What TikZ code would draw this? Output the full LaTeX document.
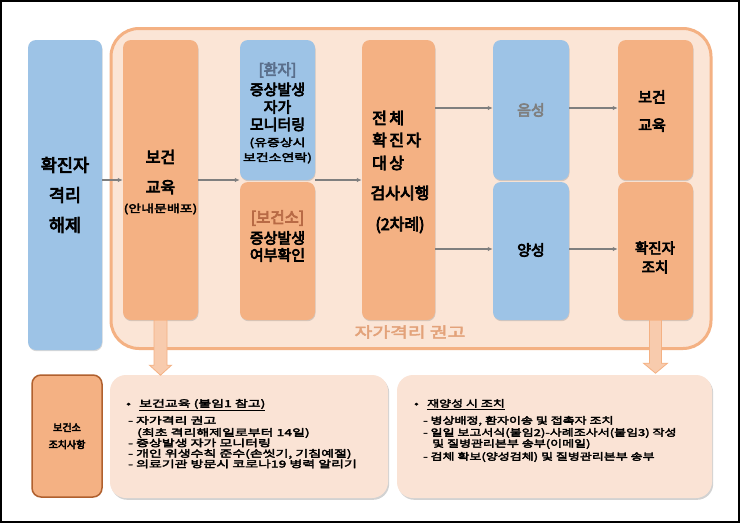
\documentclass[tikz,border=0pt]{standalone}
\usepackage{fontspec}
\setmainfont{Noto Sans CJK KR}[BoldFont={Noto Sans CJK KR}, BoldFeatures={FakeBold=4.5}]
\newfontfamily\krw{Noto Sans CJK KR}[FakeStretch=1.33, BoldFont={Noto Sans CJK KR}, BoldFeatures={FakeBold=3.5}]
\newfontfamily\krm{Noto Sans CJK KR}[FakeStretch=1.47, BoldFont={Noto Sans CJK KR}, BoldFeatures={FakeBold=3.5}]
\newfontfamily\krr{Noto Sans CJK KR}[FakeStretch=1.37, BoldFont={Noto Sans CJK KR}, BoldFeatures={FakeBold=3.5}]
\usetikzlibrary{arrows.meta,shadows,calc}
\definecolor{cblue}{HTML}{9DC3E6}
\definecolor{corange}{HTML}{F4B183}
\definecolor{cpeach}{HTML}{FBE5D6}
\definecolor{cpeachb}{HTML}{FAE3D5}
\definecolor{cline}{HTML}{7F7F7F}
\definecolor{cbrown}{HTML}{B0602E}
\definecolor{cslate}{HTML}{5A6F8C}
\definecolor{chc}{HTML}{B86A45}
\definecolor{clabel}{HTML}{E3A27A}
\definecolor{carrow}{HTML}{F8CBAD}
\begin{document}
\begin{tikzpicture}[x=1pt,y=-1pt,
  box/.style={rounded corners=8pt, inner sep=0pt, draw=none,
    drop shadow={shadow xshift=0.5pt, shadow yshift=-1.2pt, opacity=0.3}},
  bluebox/.style={box, fill=cblue},
  orbox/.style={box, fill=corange},
  big/.style={font=\bfseries\fontsize{15}{18}\selectfont, align=center, inner sep=0pt},
  small/.style={font=\krw\bfseries\fontsize{10.5}{15}\selectfont, align=center, inner sep=0pt},
  note/.style={font=\krm\bfseries\fontsize{9.5}{12}\selectfont, anchor=base west, inner sep=0pt},
  noter/.style={font=\krr\bfseries\fontsize{9.5}{12}\selectfont, anchor=base west, inner sep=0pt},
  garrow/.style={draw=cline, line width=1.2pt, -{Latex[length=5pt,width=4.5pt]}},
  barrow/.style={fill=carrow, draw=corange, line width=0.8pt},
  notebox/.style={fill=cpeachb, rounded corners=16pt, inner sep=0pt,
    drop shadow={shadow xshift=1.2pt, shadow yshift=-1.8pt, opacity=0.35}},
]
\useasboundingbox (0,0) rectangle (740,523);
\fill[white] (0,0) rectangle (740,523);
\draw[black, line width=1.5pt] (1,1) rectangle (739,522);

% container
\node[draw=corange, line width=3pt, fill=cpeach, rounded corners=28pt,
  minimum width=600pt, minimum height=320pt, inner sep=0pt] (home) at (411,188.5) {};
\node[font=\krw\bfseries\fontsize{14.5}{18}\selectfont, text=clabel, inner sep=0pt] (homelabel) at (410,332) {자가격리 권고};

% boxes
\node[bluebox, minimum width=74pt, minimum height=310pt] (release) at (65,195) {};
\node[orbox, minimum width=75pt, minimum height=280pt] (edu) at (160.5,180) {};
\node[bluebox, minimum width=75pt, minimum height=140pt] (patient) at (277.5,110) {};
\node[orbox, minimum width=75pt, minimum height=138pt] (hcenter) at (277.5,251) {};
\node[orbox, minimum width=73pt, minimum height=280pt] (total) at (398.5,180) {};
\node[bluebox, minimum width=76pt, minimum height=140pt] (neg) at (531,110) {};
\node[bluebox, minimum width=76pt, minimum height=138pt] (pos) at (531,251) {};
\node[orbox, minimum width=75pt, minimum height=140pt] (edu2) at (655.5,110) {};
\node[orbox, minimum width=75pt, minimum height=138pt] (conf) at (655.5,251) {};

% texts in boxes
\node[big, font=\bfseries\fontsize{17.5}{30}\selectfont] (releaset) at (65,195) {확진자\\격리\\해제};
\node[big, font=\bfseries\fontsize{16}{30}\selectfont] (edut) at (160.5,172) {보건\\교육};
\node[small, font=\krw\bfseries\fontsize{10.5}{13}\selectfont] (edus) at (160.5,209) {(안내문배포)};

\node[big, text=cslate] (patientt1) at (277.5,70) {[환자]};
\node[big, font=\bfseries\fontsize{15}{17.5}\selectfont] (patientt2) at (277.5,107) {증상발생\\자가\\모니터링};
\node[small] (patientt3) at (277.5,150.5) {(유증상시\\보건소연락)};

\node[big, text=chc, font=\bfseries\fontsize{15.5}{18}\selectfont] (hcentert1) at (277.5,218) {[보건소]};
\node[big, font=\bfseries\fontsize{15}{17}\selectfont] (hcentert2) at (277.5,246.5) {증상발생\\여부확인};

\node[big, anchor=west, font=\bfseries\fontsize{16}{18}\selectfont\addfontfeature{LetterSpace=15}] (totalt1) at (372,118) {전체};
\node[big, anchor=west, font=\bfseries\fontsize{16}{18}\selectfont\addfontfeature{LetterSpace=15}] (totalt2) at (372,140) {확진자};
\node[big, anchor=west, font=\bfseries\fontsize{16}{18}\selectfont\addfontfeature{LetterSpace=15}] (totalt3) at (372,163) {대상};
\node[big, font=\bfseries\fontsize{16}{18}\selectfont] (totalt4) at (400,193) {검사시행};
\node[big, font=\bfseries\fontsize{16}{18}\selectfont] (totalt5) at (400,225) {(2차례)};

\node[big, text=cline] (negt) at (531,110) {음성};
\node[big] (post) at (531,250) {양성};
\node[big, font=\bfseries\fontsize{15}{28}\selectfont] (edu2t) at (652,111) {보건\\교육};
\node[big, font=\bfseries\fontsize{14.5}{19}\selectfont] (conft) at (655,257.5) {확진자\\조치};

% gray arrows
\draw[garrow] (release.east |- edu) -- (edu.west);
\draw[garrow] (edu.east) -- (edu.east -| patient.west);
\draw[garrow] (edu.east -| patient.east) -- (total.west);
\draw[garrow] (total.east |- 0,108) -- (neg.west |- 0,108);
\draw[garrow] (total.east |- 0,249) -- (pos.west |- 0,249);
\draw[garrow] (neg.east |- 0,108) -- (edu2.west |- 0,108);
\draw[garrow] (pos.east |- 0,249) -- (conf.west |- 0,249);

% bottom boxes
\node[fill=corange, draw=cbrown, line width=1.5pt, rounded corners=9pt,
  minimum width=70pt, minimum height=122pt, inner sep=0pt] (hcaction) at (67,436) {};
\node[font=\bfseries\fontsize{10}{17}\selectfont, align=center, inner sep=0pt] (hcactiont) at (67,436) {보건소\\조치사항};
\node[notebox, minimum width=278pt, minimum height=123pt] (notemid) at (249,436.5) {};
\node[notebox, minimum width=315pt, minimum height=123pt] (noteright) at (554.5,436.5) {};

% block arrows
\draw[barrow] (edu.south) ++(-6.5,0) -- ++(0,45) -- ++(-4.5,0) -- ++(11,10) -- ++(11,-10) -- ++(-4.5,0) -- ++(0,-45) -- cycle;
\draw[barrow] (conf.south) ++(-6,0) -- ++(0,43) -- ++(-6,0) -- ++(12,10) -- ++(12,-10) -- ++(-6,0) -- ++(0,-43) -- cycle;

% note texts middle
\node[note] (m0) at (126,407) {•};
\node[note] (m1) at (139,407) {\underline{보건교육 (붙임1 참고)}};
\node[note] (m2) at (128,424) {- 자가격리 권고};
\node[note] (m3) at (137,436) {(최초 격리해제일로부터 14일)};
\node[note] (m4) at (128,446.5) {- 증상발생 자가 모니터링};
\node[note] (m5) at (128,457) {- 개인 위생수칙 준수(손씻기, 기침예절)};
\node[note] (m6) at (128,467.5) {- 의료기관 방문시 코로나19 병력 알리기};

% note texts right
\node[noter] (r0) at (414,407) {•};
\node[noter] (r1) at (427,407) {\underline{재양성 시 조치}};
\node[noter] (r2) at (423,424) {- 병상배정, 환자이송 및 접촉자 조치};
\node[noter] (r3) at (423,436) {- 일일 보고서식(붙임2)-사례조사서(붙임3) 작성};
\node[noter] (r4) at (432,447) {및 질병관리본부 송부(이메일)};
\node[noter] (r5) at (423,460) {- 검체 확보(양성검체) 및 질병관리본부 송부};
\end{tikzpicture}
\end{document}
